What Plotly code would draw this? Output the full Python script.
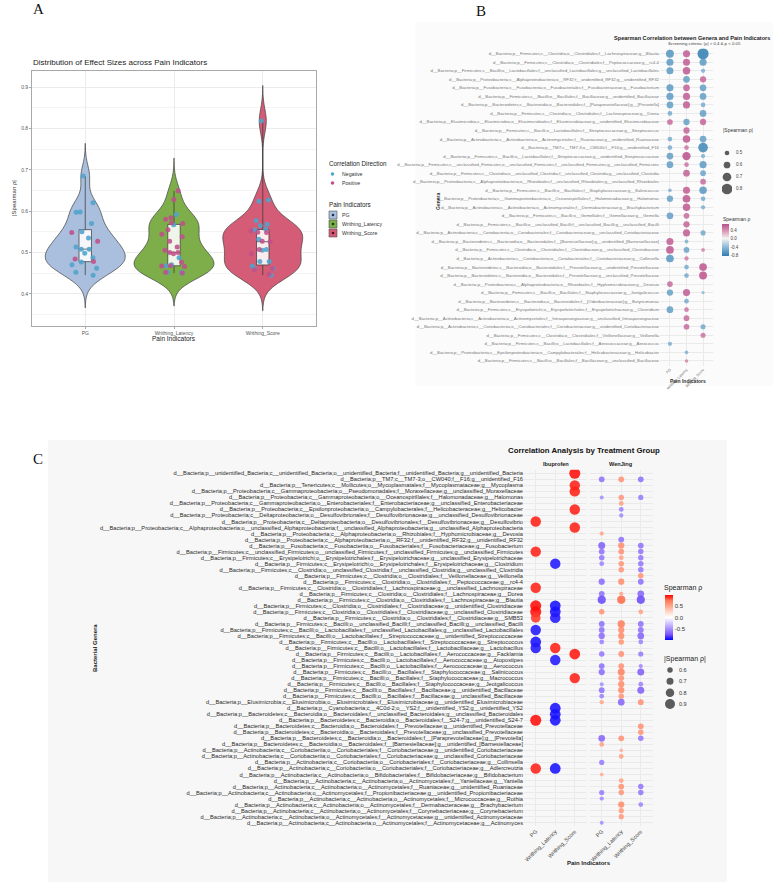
import numpy as np
import plotly.graph_objects as go

W, H = 773, 885
FONT = "Liberation Sans, Arial, sans-serif"


def px(x):
    return x / W


def py(y):
    return 1 - y / H


# ---------------- Panel A data ----------------
indicators = ["PG", "Writhing_Latency", "Writhing_Score"]
pg_neg = [0.685, 0.620, 0.598, 0.597, 0.570, 0.550, 0.535, 0.513, 0.508, 0.508,
          0.498, 0.487, 0.477, 0.470, 0.462, 0.452, 0.445]
pg_pos = [0.548, 0.527, 0.484, 0.478]
wl_neg = [0.592, 0.567, 0.487, 0.470, 0.468, 0.452, 0.452, 0.450]
wl_pos = [0.649, 0.628, 0.584, 0.580, 0.572, 0.570, 0.555, 0.544, 0.538, 0.527,
          0.513, 0.505, 0.500, 0.500, 0.497, 0.476, 0.468, 0.466, 0.467, 0.452, 0.450]
ws_neg = [0.818, 0.627, 0.624, 0.577, 0.568, 0.565, 0.554, 0.556, 0.532, 0.507,
          0.478, 0.478, 0.461, 0.467, 0.461, 0.445, 0.505]
ws_pos = [0.552, 0.549, 0.548, 0.527, 0.526, 0.507, 0.497, 0.461, 0.458, 0.447]

# ---------------- Panel B data ----------------
b_genera = [
    "d__Bacteria;p__Firmicutes;c__Clostridia;o__Clostridiales;f__Lachnospiraceae;g__Blautia",
    "d__Bacteria;p__Firmicutes;c__Clostridia;o__Clostridiales;f__Peptococcaceae;g__rc4-4",
    "d__Bacteria;p__Firmicutes;c__Bacilli;o__Lactobacillales;f__unclassified_Lactobacillales;g__unclassified_Lactobacillales",
    "d__Bacteria;p__Proteobacteria;c__Alphaproteobacteria;o__RF32;f__unidentified_RF32;g__unidentified_RF32",
    "d__Bacteria;p__Fusobacteria;c__Fusobacteriia;o__Fusobacteriales;f__Fusobacteriaceae;g__Fusobacterium",
    "d__Bacteria;p__Firmicutes;c__Bacilli;o__Bacillales;f__Bacillaceae;g__unidentified_Bacillaceae",
    "d__Bacteria;p__Bacteroidetes;c__Bacteroidia;o__Bacteroidales;f__[Paraprevotellaceae];g__[Prevotella]",
    "d__Bacteria;p__Firmicutes;c__Clostridia;o__Clostridiales;f__Lachnospiraceae;g__Dorea",
    "d__Bacteria;p__Elusimicrobia;c__Elusimicrobia;o__Elusimicrobiales;f__Elusimicrobiaceae;g__unidentified_Elusimicrobiaceae",
    "d__Bacteria;p__Firmicutes;c__Bacilli;o__Lactobacillales;f__Streptococcaceae;g__Streptococcus",
    "d__Bacteria;p__Actinobacteria;c__Actinobacteria;o__Actinomycetales;f__Ruaniaceae;g__unidentified_Ruaniaceae",
    "d__Bacteria;p__TM7;c__TM7-3;o__CW040;f__F16;g__unidentified_F16",
    "d__Bacteria;p__Firmicutes;c__Bacilli;o__Lactobacillales;f__Streptococcaceae;g__unidentified_Streptococcaceae",
    "d__Bacteria;p__Firmicutes;c__unclassified_Firmicutes;o__unclassified_Firmicutes;f__unclassified_Firmicutes;g__unclassified_Firmicutes",
    "d__Bacteria;p__Firmicutes;c__Clostridia;o__unclassified_Clostridia;f__unclassified_Clostridia;g__unclassified_Clostridia",
    "d__Bacteria;p__Proteobacteria;c__Alphaproteobacteria;o__Rhizobiales;f__unclassified_Rhizobiales;g__unclassified_Rhizobiales",
    "d__Bacteria;p__Firmicutes;c__Bacilli;o__Bacillales;f__Staphylococcaceae;g__Salinicoccus",
    "d__Bacteria;p__Proteobacteria;c__Gammaproteobacteria;o__Oceanospirillales;f__Halomonadaceae;g__Halomonas",
    "d__Bacteria;p__Actinobacteria;c__Actinobacteria;o__Actinomycetales;f__Dermabacteraceae;g__Brachybacterium",
    "d__Bacteria;p__Firmicutes;c__Bacilli;o__Gemellales;f__Gemellaceae;g__Gemella",
    "d__Bacteria;p__Firmicutes;c__Bacilli;o__unclassified_Bacilli;f__unclassified_Bacilli;g__unclassified_Bacilli",
    "d__Bacteria;p__Actinobacteria;c__Coriobacteriia;o__Coriobacteriales;f__Coriobacteriaceae;g__unclassified_Coriobacteriaceae",
    "d__Bacteria;p__Bacteroidetes;c__Bacteroidia;o__Bacteroidales;f__[Barnesiellaceae];g__unidentified_[Barnesiellaceae]",
    "d__Bacteria;p__Firmicutes;c__Clostridia;o__Clostridiales;f__Clostridiaceae;g__unclassified_Clostridiaceae",
    "d__Bacteria;p__Actinobacteria;c__Coriobacteriia;o__Coriobacteriales;f__Coriobacteriaceae;g__Collinsella",
    "d__Bacteria;p__Bacteroidetes;c__Bacteroidia;o__Bacteroidales;f__Prevotellaceae;g__unidentified_Prevotellaceae",
    "d__Bacteria;p__Bacteroidetes;c__Bacteroidia;o__Bacteroidales;f__Prevotellaceae;g__unclassified_Prevotellaceae",
    "d__Bacteria;p__Proteobacteria;c__Alphaproteobacteria;o__Rhizobiales;f__Hyphomicrobiaceae;g__Devosia",
    "d__Bacteria;p__Firmicutes;c__Bacilli;o__Bacillales;f__Staphylococcaceae;g__Jeotgalicoccus",
    "d__Bacteria;p__Bacteroidetes;c__Bacteroidia;o__Bacteroidales;f__[Odoribacteraceae];g__Butyricimonas",
    "d__Bacteria;p__Firmicutes;c__Erysipelotrichi;o__Erysipelotrichales;f__Erysipelotrichaceae;g__Clostridium",
    "d__Bacteria;p__Actinobacteria;c__Actinobacteria;o__Actinomycetales;f__Intrasporangiaceae;g__unclassified_Intrasporangiaceae",
    "d__Bacteria;p__Actinobacteria;c__Coriobacteriia;o__Coriobacteriales;f__Coriobacteriaceae;g__unidentified_Coriobacteriaceae",
    "d__Bacteria;p__Firmicutes;c__Clostridia;o__Clostridiales;f__Veillonellaceae;g__Veillonella",
    "d__Bacteria;p__Firmicutes;c__Bacilli;o__Lactobacillales;f__Aerococcaceae;g__Aerococcus",
    "d__Bacteria;p__Proteobacteria;c__Epsilonproteobacteria;o__Campylobacterales;f__Helicobacteraceae;g__Helicobacter",
    "d__Bacteria;p__Firmicutes;c__Bacilli;o__Bacillales;f__Bacillaceae;g__unclassified_Bacillaceae",
]
b_pg = [-0.66, -0.62, -0.62, None, -0.62, -0.62, -0.60, -0.50, 0.55, None,
        -0.50, -0.50, -0.60, -0.60, None, None, -0.45, -0.58, None, -0.60,
        None, None, 0.62, 0.65, -0.65, None, None, 0.55, -0.58, None,
        -0.60, None, None, None, -0.48, None, None]
b_wl = [0.62, 0.62, 0.64, -0.60, 0.60, 0.62, 0.62, None, -0.58, 0.58,
        0.64, 0.50, 0.68, 0.50, 0.60, None, 0.62, 0.65, 0.64, 0.55,
        0.58, 0.62, -0.46, -0.55, 0.48, -0.50, -0.50, None, 0.62, -0.50,
        0.50, 0.55, 0.55, None, None, -0.45, 0.44]
b_ws = [-0.82, -0.62, -0.48, 0.58, -0.60, -0.60, -0.50, -0.60, 0.58, None,
        -0.60, -0.75, -0.48, -0.62, -0.55, 0.55, -0.64, -0.50, -0.48, None,
        None, -0.52, None, 0.45, None, 0.65, 0.66, None, -0.42, None,
        None, None, -0.52, 0.52, None, None, None]
b_size_breaks = [0.5, 0.6, 0.7, 0.8]
b_color_ticks = [0.4, 0.0, -0.4, -0.8]

# ---------------- Panel C data ----------------
c_genera = [
    "d__Bacteria;p__unidentified_Bacteria;c__unidentified_Bacteria;o__unidentified_Bacteria;f__unidentified_Bacteria;g__unidentified_Bacteria",
    "d__Bacteria;p__TM7;c__TM7-3;o__CW040;f__F16;g__unidentified_F16",
    "d__Bacteria;p__Tenericutes;c__Mollicutes;o__Mycoplasmatales;f__Mycoplasmataceae;g__Mycoplasma",
    "d__Bacteria;p__Proteobacteria;c__Gammaproteobacteria;o__Pseudomonadales;f__Moraxellaceae;g__unclassified_Moraxellaceae",
    "d__Bacteria;p__Proteobacteria;c__Gammaproteobacteria;o__Oceanospirillales;f__Halomonadaceae;g__Halomonas",
    "d__Bacteria;p__Proteobacteria;c__Gammaproteobacteria;o__Enterobacteriales;f__Enterobacteriaceae;g__unclassified_Enterobacteriaceae",
    "d__Bacteria;p__Proteobacteria;c__Epsilonproteobacteria;o__Campylobacterales;f__Helicobacteraceae;g__Helicobacter",
    "d__Bacteria;p__Proteobacteria;c__Deltaproteobacteria;o__Desulfovibrionales;f__Desulfovibrionaceae;g__unclassified_Desulfovibrionaceae",
    "d__Bacteria;p__Proteobacteria;c__Deltaproteobacteria;o__Desulfovibrionales;f__Desulfovibrionaceae;g__Desulfovibrio",
    "d__Bacteria;p__Proteobacteria;c__Alphaproteobacteria;o__unclassified_Alphaproteobacteria;f__unclassified_Alphaproteobacteria;g__unclassified_Alphaproteobacteria",
    "d__Bacteria;p__Proteobacteria;c__Alphaproteobacteria;o__Rhizobiales;f__Hyphomicrobiaceae;g__Devosia",
    "d__Bacteria;p__Proteobacteria;c__Alphaproteobacteria;o__RF32;f__unidentified_RF32;g__unidentified_RF32",
    "d__Bacteria;p__Fusobacteria;c__Fusobacteriia;o__Fusobacteriales;f__Fusobacteriaceae;g__Fusobacterium",
    "d__Bacteria;p__Firmicutes;c__unclassified_Firmicutes;o__unclassified_Firmicutes;f__unclassified_Firmicutes;g__unclassified_Firmicutes",
    "d__Bacteria;p__Firmicutes;c__Erysipelotrichi;o__Erysipelotrichales;f__Erysipelotrichaceae;g__unclassified_Erysipelotrichaceae",
    "d__Bacteria;p__Firmicutes;c__Erysipelotrichi;o__Erysipelotrichales;f__Erysipelotrichaceae;g__Clostridium",
    "d__Bacteria;p__Firmicutes;c__Clostridia;o__unclassified_Clostridia;f__unclassified_Clostridia;g__unclassified_Clostridia",
    "d__Bacteria;p__Firmicutes;c__Clostridia;o__Clostridiales;f__Veillonellaceae;g__Veillonella",
    "d__Bacteria;p__Firmicutes;c__Clostridia;o__Clostridiales;f__Peptococcaceae;g__rc4-4",
    "d__Bacteria;p__Firmicutes;c__Clostridia;o__Clostridiales;f__Lachnospiraceae;g__unclassified_Lachnospiraceae",
    "d__Bacteria;p__Firmicutes;c__Clostridia;o__Clostridiales;f__Lachnospiraceae;g__Dorea",
    "d__Bacteria;p__Firmicutes;c__Clostridia;o__Clostridiales;f__Lachnospiraceae;g__Blautia",
    "d__Bacteria;p__Firmicutes;c__Clostridia;o__Clostridiales;f__Clostridiaceae;g__unidentified_Clostridiaceae",
    "d__Bacteria;p__Firmicutes;c__Clostridia;o__Clostridiales;f__Clostridiaceae;g__unclassified_Clostridiaceae",
    "d__Bacteria;p__Firmicutes;c__Clostridia;o__Clostridiales;f__Clostridiaceae;g__SMB53",
    "d__Bacteria;p__Firmicutes;c__Bacilli;o__unclassified_Bacilli;f__unclassified_Bacilli;g__unclassified_Bacilli",
    "d__Bacteria;p__Firmicutes;c__Bacilli;o__Lactobacillales;f__unclassified_Lactobacillales;g__unclassified_Lactobacillales",
    "d__Bacteria;p__Firmicutes;c__Bacilli;o__Lactobacillales;f__Streptococcaceae;g__unidentified_Streptococcaceae",
    "d__Bacteria;p__Firmicutes;c__Bacilli;o__Lactobacillales;f__Streptococcaceae;g__Streptococcus",
    "d__Bacteria;p__Firmicutes;c__Bacilli;o__Lactobacillales;f__Lactobacillaceae;g__Lactobacillus",
    "d__Bacteria;p__Firmicutes;c__Bacilli;o__Lactobacillales;f__Aerococcaceae;g__Facklamia",
    "d__Bacteria;p__Firmicutes;c__Bacilli;o__Lactobacillales;f__Aerococcaceae;g__Atopostipes",
    "d__Bacteria;p__Firmicutes;c__Bacilli;o__Lactobacillales;f__Aerococcaceae;g__Aerococcus",
    "d__Bacteria;p__Firmicutes;c__Bacilli;o__Bacillales;f__Staphylococcaceae;g__Salinicoccus",
    "d__Bacteria;p__Firmicutes;c__Bacilli;o__Bacillales;f__Staphylococcaceae;g__Macrococcus",
    "d__Bacteria;p__Firmicutes;c__Bacilli;o__Bacillales;f__Staphylococcaceae;g__Jeotgalicoccus",
    "d__Bacteria;p__Firmicutes;c__Bacilli;o__Bacillales;f__Bacillaceae;g__unidentified_Bacillaceae",
    "d__Bacteria;p__Firmicutes;c__Bacilli;o__Bacillales;f__Bacillaceae;g__unclassified_Bacillaceae",
    "d__Bacteria;p__Elusimicrobia;c__Elusimicrobia;o__Elusimicrobiales;f__Elusimicrobiaceae;g__unidentified_Elusimicrobiaceae",
    "d__Bacteria;p__Cyanobacteria;c__4C0d-2;o__YS2;f__unidentified_YS2;g__unidentified_YS2",
    "d__Bacteria;p__Bacteroidetes;c__Bacteroidia;o__Bacteroidales;f__unclassified_Bacteroidales;g__unclassified_Bacteroidales",
    "d__Bacteria;p__Bacteroidetes;c__Bacteroidia;o__Bacteroidales;f__S24-7;g__unidentified_S24-7",
    "d__Bacteria;p__Bacteroidetes;c__Bacteroidia;o__Bacteroidales;f__Prevotellaceae;g__unidentified_Prevotellaceae",
    "d__Bacteria;p__Bacteroidetes;c__Bacteroidia;o__Bacteroidales;f__Prevotellaceae;g__unclassified_Prevotellaceae",
    "d__Bacteria;p__Bacteroidetes;c__Bacteroidia;o__Bacteroidales;f__[Paraprevotellaceae];g__[Prevotella]",
    "d__Bacteria;p__Bacteroidetes;c__Bacteroidia;o__Bacteroidales;f__[Barnesiellaceae];g__unidentified_[Barnesiellaceae]",
    "d__Bacteria;p__Actinobacteria;c__Coriobacteriia;o__Coriobacteriales;f__Coriobacteriaceae;g__unidentified_Coriobacteriaceae",
    "d__Bacteria;p__Actinobacteria;c__Coriobacteriia;o__Coriobacteriales;f__Coriobacteriaceae;g__unclassified_Coriobacteriaceae",
    "d__Bacteria;p__Actinobacteria;c__Coriobacteriia;o__Coriobacteriales;f__Coriobacteriaceae;g__Collinsella",
    "d__Bacteria;p__Actinobacteria;c__Coriobacteriia;o__Coriobacteriales;f__Coriobacteriaceae;g__Adlercreutzia",
    "d__Bacteria;p__Actinobacteria;c__Actinobacteria;o__Bifidobacteriales;f__Bifidobacteriaceae;g__Bifidobacterium",
    "d__Bacteria;p__Actinobacteria;c__Actinobacteria;o__Actinomycetales;f__Yaniellaceae;g__Yaniella",
    "d__Bacteria;p__Actinobacteria;c__Actinobacteria;o__Actinomycetales;f__Ruaniaceae;g__unidentified_Ruaniaceae",
    "d__Bacteria;p__Actinobacteria;c__Actinobacteria;o__Actinomycetales;f__Propionibacteriaceae;g__unidentified_Propionibacteriaceae",
    "d__Bacteria;p__Actinobacteria;c__Actinobacteria;o__Actinomycetales;f__Micrococcaceae;g__Rothia",
    "d__Bacteria;p__Actinobacteria;c__Actinobacteria;o__Actinomycetales;f__Dermabacteraceae;g__Brachybacterium",
    "d__Bacteria;p__Actinobacteria;c__Actinobacteria;o__Actinomycetales;f__Corynebacteriaceae;g__Corynebacterium",
    "d__Bacteria;p__Actinobacteria;c__Actinobacteria;o__Actinomycetales;f__Actinomycetaceae;g__unidentified_Actinomycetaceae",
    "d__Bacteria;p__Actinobacteria;c__Actinobacteria;o__Actinomycetales;f__Actinomycetaceae;g__Actinomyces",
]
N_ = None
ibu_pg = [N_, N_, N_, N_, N_, N_, N_, N_, 0.93, N_,
          N_, N_, N_, 0.93, N_, N_, N_, N_, N_, 0.93,
          N_, N_, 0.97, 0.97, 0.88, N_, -0.93, N_, -0.95, -0.93,
          N_, N_, N_, N_, N_, N_, N_, N_, N_, N_,
          N_, 0.97, N_, N_, N_, N_, N_, N_, N_, 0.93,
          N_, N_, N_, N_, N_, N_, N_, N_, N_]
ibu_wl = [N_, N_, N_, N_, N_, N_, N_, N_, N_, N_,
          N_, N_, N_, N_, N_, -0.93, N_, N_, N_, N_,
          N_, N_, -0.95, -0.95, -0.93, N_, N_, N_, N_, 0.93,
          N_, -0.93, N_, N_, N_, N_, N_, N_, N_, -0.95,
          -0.95, -0.95, N_, N_, N_, N_, N_, N_, N_, -0.95,
          N_, N_, N_, N_, N_, N_, N_, N_, N_]
ibu_ws = [0.97, N_, 0.93, 0.93, N_, N_, 0.93, N_, N_, 0.93,
          N_, N_, N_, N_, N_, N_, N_, N_, N_, N_,
          N_, N_, N_, N_, N_, N_, N_, N_, N_, N_,
          0.95, N_, N_, N_, 0.93, N_, N_, N_, N_, N_,
          N_, N_, N_, N_, N_, N_, N_, N_, N_, N_,
          N_, N_, N_, N_, N_, N_, N_, N_, N_]
wj_pg = [N_, -0.62, N_, N_, -0.50, N_, N_, N_, N_, N_,
         0.52, N_, -0.70, -0.62, -0.60, -0.55, N_, N_, -0.65, N_,
         -0.62, -0.78, N_, 0.60, N_, -0.62, -0.62, -0.65, -0.55, N_,
         -0.60, N_, -0.62, -0.65, N_, -0.50, -0.62, -0.55, 0.52, N_,
         N_, N_, N_, N_, -0.68, 0.55, N_, N_, -0.58, N_,
         0.48, N_, N_, -0.58, -0.52, N_, N_, N_, -0.50]
wj_wl = [N_, 0.62, N_, N_, 0.60, 0.55, -0.55, -0.52, N_, N_,
         N_, -0.62, 0.65, 0.62, 0.55, 0.60, 0.60, N_, 0.65, N_,
         0.52, 0.78, N_, N_, N_, 0.72, 0.65, 0.65, 0.60, N_,
         0.62, N_, 0.62, 0.70, 0.62, 0.65, 0.65, 0.60, -0.68, N_,
         N_, N_, N_, N_, 0.62, N_, 0.47, 0.55, N_, N_,
         N_, 0.55, 0.62, 0.60, N_, 0.65, 0.58, 0.58, N_]
wj_ws = [N_, -0.62, N_, N_, -0.58, N_, N_, N_, N_, N_,
         N_, N_, -0.62, -0.60, -0.60, -0.60, -0.60, 0.60, -0.62, N_,
         -0.68, -0.78, N_, 0.55, N_, -0.62, -0.62, -0.68, -0.55, N_,
         -0.58, N_, -0.52, -0.70, N_, -0.55, -0.70, N_, 0.62, N_,
         N_, N_, 0.62, 0.60, -0.60, N_, N_, N_, N_, N_,
         N_, N_, -0.60, -0.60, N_, -0.55, N_, N_, N_]
c_size_breaks = [0.6, 0.7, 0.8, 0.9]
c_color_ticks = [0.5, 0.0, -0.5]

# ---------------- helpers ----------------
def size_b(v):
    return 4.7 + (abs(v) - 0.5) * 20.0


def size_c(v):
    return 4.0 + (abs(v) - 0.5) * 15.0


def long_form(columns):
    xs, ys, vs = [], [], []
    for j, col in enumerate(columns):
        for r, v in enumerate(col):
            if v is not None:
                xs.append(j)
                ys.append(r)
                vs.append(v)
    return xs, ys, vs


fig = go.Figure()

# ---------------- Panel A ----------------
a_fill = ["#A9BFDD", "#7DAE49", "#D55C76"]
a_key_dot = ["#1F2F4F", "#1E3A0E", "#4A0E1C"]
neg_color = "#4FA3CC"
pos_color = "#C0508A"
a_groups = [(pg_neg, pg_pos), (wl_neg, wl_pos), (ws_neg, ws_pos)]

for i, (neg, pos) in enumerate(a_groups):
    vals = np.array(neg + pos)
    q1, q3 = np.percentile(vals, [25, 75])
    bw = 0.9 * min(vals.std(ddof=1), (q3 - q1) / 1.34) * len(vals) ** -0.2
    fig.add_trace(go.Violin(
        x0=i, y=vals, width=0.9, scalegroup="A", scalemode="width",
        bandwidth=bw, spanmode="manual", span=[vals.min() - 3 * bw, vals.max() + 3 * bw],
        fillcolor=a_fill[i], line=dict(color="#404040", width=0.7), points=False,
        opacity=1, showlegend=False, hoverinfo="skip", xaxis="x", yaxis="y"))
for i, (neg, pos) in enumerate(a_groups):
    vals = np.array(neg + pos)
    fig.add_trace(go.Box(
        x0=i, y=vals, width=0.14, fillcolor="rgba(255,255,255,0.88)",
        line=dict(color="#333333", width=0.7), whiskerwidth=0, boxpoints=False,
        quartilemethod="linear", showlegend=False, hoverinfo="skip", xaxis="x", yaxis="y"))
for i, (neg, pos) in enumerate(a_groups):
    for vals, col in ((neg, neg_color), (pos, pos_color)):
        fig.add_trace(go.Box(
            x0=i, y=vals, width=0.36, boxpoints="all", jitter=1, pointpos=0,
            fillcolor="rgba(0,0,0,0)", line=dict(color="rgba(0,0,0,0)", width=0),
            marker=dict(color=col, size=5, opacity=0.88),
            showlegend=False, hoverinfo="skip", xaxis="x", yaxis="y"))

# ---------------- Panel B ----------------
bx, by, bv = long_form([b_pg, b_wl, b_ws])
fig.add_trace(go.Scatter(
    x=bx, y=by, mode="markers", xaxis="x2", yaxis="y2", showlegend=False, hoverinfo="skip",
    marker=dict(color=bv, coloraxis="coloraxis", size=[size_b(v) for v in bv],
                opacity=0.85, line=dict(width=0))))
fig.add_trace(go.Scatter(
    x=[0] * len(b_size_breaks), y=list(range(len(b_size_breaks))), mode="markers",
    xaxis="x5", yaxis="y5", showlegend=False, hoverinfo="skip",
    marker=dict(color="#1A1A1A", size=[size_b(v) for v in b_size_breaks], line=dict(width=0))))

# ---------------- Panel C ----------------
cx1, cy1, cv1 = long_form([ibu_pg, ibu_wl, ibu_ws])
cx2, cy2, cv2 = long_form([wj_pg, wj_wl, wj_ws])
for xs, ys, vs, xa, ya in ((cx1, cy1, cv1, "x3", "y3"), (cx2, cy2, cv2, "x4", "y4")):
    fig.add_trace(go.Scatter(
        x=xs, y=ys, mode="markers", xaxis=xa, yaxis=ya, showlegend=False, hoverinfo="skip",
        marker=dict(color=vs, coloraxis="coloraxis2", size=[size_c(v) for v in vs],
                    opacity=0.88, line=dict(width=0))))
fig.add_trace(go.Scatter(
    x=[0] * len(c_size_breaks), y=list(range(len(c_size_breaks))), mode="markers",
    xaxis="x6", yaxis="y6", showlegend=False, hoverinfo="skip",
    marker=dict(color="#1A1A1A", size=[size_c(v) for v in c_size_breaks], line=dict(width=0))))

# ---------------- colour axes ----------------
bmin, bmax = min(bv), max(bv)
mid = -bmin / (bmax - bmin)
cs_b = [[0, "#2F7DB0"], [mid / 2, "#8CB8D6"], [mid, "#F4F4F4"],
        [mid + (1 - mid) / 2, "#D99BB8"], [1, "#BA4F8A"]]
cs_c = [[0, "#0000FF"], [0.125, "#7A55F8"], [0.25, "#A78FFF"], [0.375, "#D3C8FF"],
        [0.5, "#FFFFFF"], [0.625, "#FFD7C9"], [0.75, "#FFA98E"], [0.875, "#FF7A57"],
        [1, "#FF0000"]]

nb = len(b_genera)
nc = len(c_genera)

grid = "#EAEAEA"
layout = dict(
    width=W, height=H, margin=dict(l=0, r=0, t=0, b=0),
    paper_bgcolor="white", plot_bgcolor="rgba(0,0,0,0)",
    font=dict(family=FONT, color="#333333"), showlegend=False,
    coloraxis=dict(cmin=bmin, cmax=bmax, colorscale=cs_b, colorbar=dict(
        x=px(722), xanchor="left", y=py(224), yanchor="top", len=32, lenmode="pixels",
        thickness=7, thicknessmode="pixels", xpad=0, ypad=0, outlinewidth=0, ticks="",
        tickvals=b_color_ticks, ticktext=[f"{t:.1f}" for t in b_color_ticks],
        tickfont=dict(size=4.5, color="#444"))),
    coloraxis2=dict(cmin=-1, cmax=1, colorscale=cs_c, colorbar=dict(
        x=px(665), xanchor="left", y=py(595), yanchor="top", len=45, lenmode="pixels",
        thickness=8, thicknessmode="pixels", xpad=0, ypad=0, outlinewidth=0, ticks="",
        tickvals=c_color_ticks, ticktext=[f"{t:.1f}" for t in c_color_ticks],
        tickfont=dict(size=6, color="#333"))),
    violinmode="overlay", boxmode="overlay",
    # Panel A
    xaxis=dict(domain=[px(32), px(316)], range=[-0.6, 2.6], type="linear", anchor="y",
               tickvals=[0, 1, 2], ticktext=indicators, tickfont=dict(size=5, color="#555"),
               showgrid=True, gridcolor="#EBEBEB", gridwidth=0.6, zeroline=False,
               showline=True, mirror=True, linecolor="#A8A8A8", linewidth=0.7,
               ticks="outside", ticklen=2, tickcolor="#A8A8A8"),
    yaxis=dict(domain=[py(326), py(71)], range=[0.322, 0.939], anchor="x",
               tick0=0, dtick=0.1, tickformat=".1f", tickfont=dict(size=5, color="#555"),
               showgrid=True, gridcolor="#EBEBEB", gridwidth=0.6, zeroline=False,
               minor=dict(tick0=0, dtick=0.05, showgrid=True, gridcolor="#F4F4F4", gridwidth=0.5),
               showline=True, mirror=True, linecolor="#A8A8A8", linewidth=0.7,
               ticks="outside", ticklen=2, tickcolor="#A8A8A8"),
    # Panel B
    xaxis2=dict(domain=[px(660), px(713)], range=[-0.6, 2.6], anchor="y2",
                tickvals=[0, 1, 2], ticktext=indicators, tickangle=-45,
                tickfont=dict(size=3.6, color="#666"), showgrid=True, gridcolor=grid,
                gridwidth=0.5, zeroline=False, showline=False, ticks=""),
    yaxis2=dict(domain=[py(366), py(48.6)], range=[nb - 1 + 0.6, -0.6], anchor="x2",
                tickvals=list(range(nb)), ticktext=b_genera,
                tickfont=dict(size=4.3, color="#777"), showgrid=True, gridcolor=grid,
                gridwidth=0.5, zeroline=False, showline=False, ticks=""),
    # Panel C
    xaxis3=dict(domain=[px(524), px(586.5)], range=[-0.6, 2.6], anchor="y3",
                tickvals=[0, 1, 2], ticktext=indicators, tickangle=-45,
                tickfont=dict(size=5.5, color="#444"), showgrid=True, gridcolor=grid,
                gridwidth=0.6, zeroline=False, ticks=""),
    yaxis3=dict(domain=[py(826.3), py(469.7)], range=[nc - 1 + 0.6, -0.6], anchor="x3",
                tickvals=list(range(nc)), ticktext=c_genera,
                tickfont=dict(size=5.7, color="#2A2A2A"), showgrid=True, gridcolor=grid,
                gridwidth=0.6, zeroline=False, ticks=""),
    xaxis4=dict(domain=[px(590), px(652.5)], range=[-0.6, 2.6], anchor="y4",
                tickvals=[0, 1, 2], ticktext=indicators, tickangle=-45,
                tickfont=dict(size=5.5, color="#444"), showgrid=True, gridcolor=grid,
                gridwidth=0.6, zeroline=False, ticks=""),
    yaxis4=dict(domain=[py(826.3), py(469.7)], range=[nc - 1 + 0.6, -0.6], anchor="x4",
                tickvals=list(range(nc)), showticklabels=False, showgrid=True,
                gridcolor=grid, gridwidth=0.6, zeroline=False, ticks=""),
    # size-legend axes
    xaxis5=dict(domain=[px(722), px(732)], range=[-1, 1], anchor="y5", visible=False),
    yaxis5=dict(domain=[py(195), py(147)], range=[3.5, -0.5], anchor="x5", visible=False),
    xaxis6=dict(domain=[px(664), px(676)], range=[-1, 1], anchor="y6", visible=False),
    yaxis6=dict(domain=[py(709.7), py(664.3)], range=[3.5, -0.5], anchor="x6", visible=False),
)
fig.update_layout(**layout)

ann = []


def text(x, y, s, size, xanchor="left", color="#333333", bold=False, angle=0, family=FONT,
         yanchor="middle"):
    ann.append(dict(x=px(x), y=py(y), xref="paper", yref="paper", text=f"<b>{s}</b>" if bold else s,
                    showarrow=False, xanchor=xanchor, yanchor=yanchor, textangle=angle,
                    font=dict(size=size, color=color, family=family), borderpad=0))


SERIF = "Liberation Serif, Times New Roman, serif"
text(38, 9, "A", 15, "center", "#111", family=SERIF)
text(481, 11, "B", 15, "center", "#111", family=SERIF)
text(38, 459, "C", 15, "center", "#111", family=SERIF)

# Panel A texts
text(32, 62, "Distribution of Effect Sizes across Pain Indicators", 8, "left", "#222")
text(14, 198, "|Spearman ρ|", 6, "center", "#333", angle=-90)
text(174, 339, "Pain Indicators", 6.5, "center", "#222")
text(328, 163, "Correlation Direction", 6.3, "left", "#222")
text(341, 174, "Negative", 5.2, "left", "#333")
text(341, 183, "Positive", 5.2, "left", "#333")
text(328, 204, "Pain Indicators", 6.3, "left", "#222")
for k, nm in enumerate(indicators):
    text(341, 215 + 9 * k, nm, 5.2, "left", "#333")

# Panel B texts
text(771, 38, "Spearman Correlation between Genera and Pain Indicators", 5.6, "right", "#222", bold=True)
text(742, 43.7, "Screening criteria: |ρ| > 0.4 & p < 0.05", 4.3, "right", "#444")
text(438, 202, "Genera", 5, "center", "#333", bold=True, angle=-90)
text(688, 381, "Pain Indicators", 5, "center", "#333", bold=True)
text(722, 130, "|Spearman ρ|", 5, "left", "#333")
for k, v in enumerate(b_size_breaks):
    text(735, 153 + 12 * k, f"{v:.1f}", 4.5, "left", "#444")
text(722, 219, "Spearman ρ", 5, "left", "#333")

# Panel C texts
text(507, 450, "Correlation Analysis by Treatment Group", 7.8, "left", "#111", bold=True)
text(555.5, 464, "Ibuprofen", 5.6, "center", "#222", bold=True)
text(621.3, 464, "WenJing", 5.6, "center", "#222", bold=True)
text(95, 648, "Bacterial Genera", 6, "center", "#222", bold=True, angle=-90)
text(589, 863, "Pain Indicators", 6, "center", "#222", bold=True)
text(663, 588, "Spearman ρ", 7, "left", "#222")
text(663, 659, "|Spearman ρ|", 7, "left", "#222")
for k, v in enumerate(c_size_breaks):
    text(678, 670 + 11.3 * k, f"{v:.1f}", 5.5, "left", "#333")

shapes = [
    dict(type="rect", xref="paper", yref="paper", x0=px(48), x1=px(727), y0=py(882), y1=py(440),
         fillcolor="#F7F7F7", line=dict(width=0), layer="below"),
    dict(type="rect", xref="paper", yref="paper", x0=px(415), x1=px(773), y0=py(386), y1=py(22),
         fillcolor="#FBFBFB", line=dict(width=0), layer="below"),
]


def circle(cx, cy, d, color):
    shapes.append(dict(type="circle", xref="paper", yref="paper",
                       x0=px(cx - d / 2), x1=px(cx + d / 2), y0=py(cy + d / 2), y1=py(cy - d / 2),
                       fillcolor=color, line=dict(width=0)))


circle(332.5, 174, 3.6, neg_color)
circle(332.5, 183, 3.6, pos_color)
for k in range(3):
    yc = 215 + 9 * k
    shapes.append(dict(type="rect", xref="paper", yref="paper", x0=px(329), x1=px(337),
                       y0=py(yc + 4), y1=py(yc - 4), fillcolor=a_fill[k],
                       line=dict(color="#555555", width=0.6)))
    circle(333, yc, 2.6, a_key_dot[k])

fig.update_layout(annotations=ann, shapes=shapes)
fig.write_html("out.html")
